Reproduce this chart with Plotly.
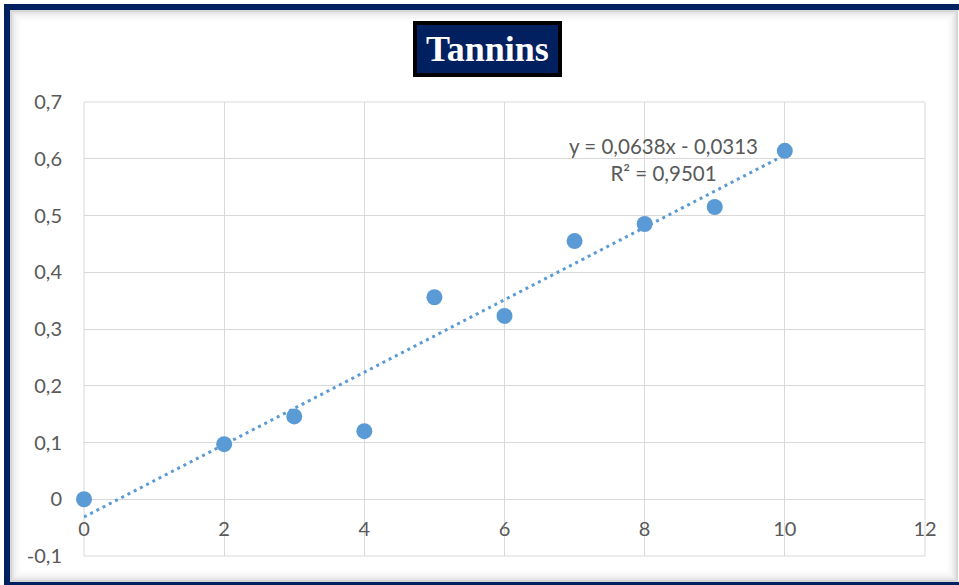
import plotly.graph_objects as go

# ---- data ----
x_conc = [0, 2, 3, 4, 5, 6, 7, 8, 9, 10]
y_abs = [0.0, 0.097, 0.146, 0.120, 0.356, 0.323, 0.455, 0.485, 0.515, 0.614]

trend_x = [0, 10]
trend_y = [-0.0313, 0.6067]

x_ticks = [0, 2, 4, 6, 8, 10, 12]
y_ticks = [-0.1, 0, 0.1, 0.2, 0.3, 0.4, 0.5, 0.6, 0.7]
y_ticktext = ["-0,1", "0", "0,1", "0,2", "0,3", "0,4", "0,5", "0,6", "0,7"]

title_text = "<b>Tannins</b>"
equation_text = "y = 0,0638x - 0,0313<br>R² = 0,9501"

W, H = 959, 585
ML, MR, MT, MB = 84, 34, 102, 29
PW, PH = W - ML - MR, H - MT - MB


def px(xp):
    return (xp - ML) / PW


def py(yp):
    return (H - MB - yp) / PH


BLUE = "#5B9BD5"
GRID = "#D9D9D9"
TXT = "#595959"
NAVY = "#002060"
FONT = "Lato, 'Open Sans', sans-serif"

fig = go.Figure()
fig.add_trace(go.Scatter(
    x=trend_x, y=trend_y, mode="lines",
    line=dict(color=BLUE, width=3, dash="3px,4px"),
    showlegend=False, hoverinfo="skip",
))
fig.add_trace(go.Scatter(
    x=x_conc, y=y_abs, mode="markers",
    marker=dict(color=BLUE, size=16),
    showlegend=False, cliponaxis=False,
))

shapes = []
# plot-area outline (edge gridlines)
shapes.append(dict(
    type="rect", xref="paper", yref="paper", x0=0, x1=1, y0=0, y1=1,
    line=dict(color=GRID, width=1), fillcolor="rgba(0,0,0,0)", layer="below",
))
# inner shadow of the frame
shadow_cols = ["rgba(0,0,0,0.16)", "rgba(0,0,0,0.10)", "rgba(0,0,0,0.06)",
               "rgba(0,0,0,0.035)", "rgba(0,0,0,0.02)"]
for i, c in enumerate(shadow_cols):
    off = 11 + 2 * i
    shapes.append(dict(
        type="rect", xref="paper", yref="paper",
        x0=px(off), x1=px(W - 2 - 2 * i), y0=py(off), y1=py(H - 4 - 2 * i),
        line=dict(color=c, width=2), fillcolor="rgba(0,0,0,0)", layer="below",
    ))
# navy frame
shapes.append(dict(
    type="rect", xref="paper", yref="paper",
    x0=px(7), x1=px(W + 20), y0=py(7), y1=py(H),
    line=dict(color=NAVY, width=6), fillcolor="rgba(0,0,0,0)", layer="above",
))

fig.update_layout(
    width=W, height=H,
    margin=dict(l=ML, r=MR, t=MT, b=MB),
    paper_bgcolor="white", plot_bgcolor="white",
    separators=", ",
    font=dict(family=FONT, size=20, color=TXT),
    xaxis=dict(
        range=[0, 12], tickvals=x_ticks, showgrid=True, gridcolor=GRID, gridwidth=1,
        zeroline=False, showline=False, anchor="free", position=0.125,
        ticks="outside", ticklen=12, tickcolor="rgba(0,0,0,0)",
        tickfont=dict(family=FONT, size=20, color=TXT),
    ),
    yaxis=dict(
        range=[-0.1, 0.7], tickvals=y_ticks, ticktext=y_ticktext,
        showgrid=True, gridcolor=GRID, gridwidth=1, zeroline=False, showline=False,
        ticks="", ticklabelstandoff=21, tickfont=dict(family=FONT, size=20, color=TXT),
    ),
    shapes=shapes,
    annotations=[
        dict(
            text=title_text, xref="paper", yref="paper", x=px(487.5), y=py(49),
            xanchor="center", yanchor="middle", showarrow=False,
            font=dict(family="'Liberation Serif', 'Times New Roman', serif", size=36, color="white"),
            bgcolor=NAVY, bordercolor="black", borderwidth=4, borderpad=4,
            width=133, height=40,
        ),
        dict(
            text=equation_text, xref="paper", yref="paper", x=px(663), y=py(159),
            xanchor="center", yanchor="middle", showarrow=False, align="center",
            font=dict(family=FONT, size=20.5, color=TXT),
        ),
    ],
)

fig.write_html(
    "out.html",
    config={"displayModeBar": False},
    post_script="document.body.style.margin='0';document.body.style.overflow='hidden';",
)
